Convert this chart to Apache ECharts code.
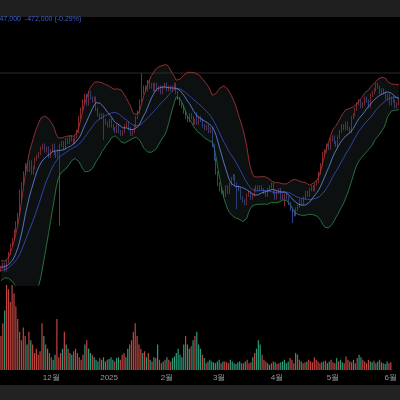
<!DOCTYPE html><html><head><meta charset="utf-8"><script src="https://cdn.jsdelivr.net/npm/echarts@6/dist/echarts.min.js"></script>
<style>html,body{margin:0;background:#000}#c{width:400px;height:400px}</style></head><body><div id="c"></div><script>
// prices in million KRW
const preCloses=[84,85,86,85,87,88,87,89,90,89,91,92,91,93,94,93,92,94,95,96,95,94,96,97,95,96,98,97,96,95];
const closes=[96,97,95,98,101,104,106,109,112,115,
121,126,130,133,131,134,130,132,135,136,
137,139,140,138,139,136,138,140,137,136,
138,140,141,139,142,141,143,142,141,143,
145,150,153,156,158,155,159,157,156,157,
153,151,150,151,149,148,147,149,147,146,
145,147,145,144,145,147,148,146,144,145,
147,150,152,156,159,161,160,163,161,162,
160,162,160,161,159,161,162,160,161,160,
161,162,159,157,155,154,152,150,149,151,
150,148,149,148,150,149,147,146,147,145,
146,140,135,130,126,124,123,122,125,123,
126,128,129,126,125,124,121,120,119,122,
123,121,122,124,125,124,125,124,123,122,
124,125,126,123,121,123,124,121,122,122,
121,119,117,116,115,117,118,120,119,121,
123,122,124,125,124,126,127,130,133,137,
138,140,139,142,143,141,140,143,145,147,
146,148,146,145,150,151,153,155,156,154,
155,157,156,154,158,159,160,162,161,159,
160,159,157,158,155,157,156,154,155,156];
const wickLows={31:111,54:142,124:117,149:118,153:112};
const wickHighs={74:166,10:124,103:152};
const volumes=[40,55,70,100,95,80,100,90,75,60,45,35,50,40,30,45,35,30,20,25,18,22,55,40,30,25,20,15,12,18,60,15,20,25,45,30,25,20,18,22,25,20,15,12,18,30,35,25,20,18,15,12,10,14,12,15,10,12,13,15,12,10,14,15,12,18,20,15,25,30,35,45,55,40,30,25,20,22,15,20,12,10,15,14,30,12,8,10,12,15,12,10,14,16,20,25,18,15,30,40,30,25,28,35,40,45,30,25,18,14,8,10,12,10,9,8,10,12,8,10,10,9,8,12,10,8,7,9,10,8,8,10,12,8,9,15,20,25,35,30,18,12,10,8,6,8,10,9,7,8,9,10,12,8,10,14,12,8,20,18,12,10,8,9,10,12,10,9,15,12,10,8,9,10,11,8,10,12,9,8,14,10,12,9,8,16,12,10,9,12,8,14,18,15,12,10,8,12,10,9,11,8,10,12,9,8,7,10,8,9];
const startDate=new Date(2024,10,4);
const dates=closes.map((_,i)=>{const d=new Date(startDate);d.setDate(d.getDate()+i);return d;});
const all=preCloses.concat(closes);const P=preCloses.length;
function ma(n,i){let s=0;for(let k=i-n+1;k<=i;k++)s+=all[k];return s/n;}
const mid=[],up=[],lo=[],ma10=[];
closes.forEach((c,i)=>{const j=i+P;const m=ma(20,j);let v=0;for(let k=j-19;k<=j;k++)v+=(all[k]-m)**2;const sd=Math.sqrt(v/20);mid.push(m);up.push(m+2*sd);lo.push(m-2*sd);ma10.push(ma(10,j));});
const ohlc=closes.map((c,i)=>{const o=i?closes[i-1]:preCloses[P-1];let l=Math.min(o,c)-0.6,h=Math.max(o,c)+0.6;if(wickLows[i])l=wickLows[i];if(wickHighs[i])h=wickHighs[i];return [o,c,l,h];});
const cats=dates.map(d=>d.getFullYear()+'-'+(d.getMonth()+1)+'-'+d.getDate());
const ch=echarts.init(document.getElementById('c'));
ch.setOption({backgroundColor:'#000',animation:false,
graphic:[{type:'rect',shape:{x:0,y:0,width:400,height:17},style:{fill:'#1f1f1f'}},
{type:'rect',shape:{x:0,y:385,width:400,height:15},style:{fill:'#222'}},
{type:'text',left:-18,top:16,style:{text:'162,047,000  -472,000 (-0.29%)',fill:'#3f5fd6',font:'7px sans-serif'}},
{type:'line',shape:{x1:0,y1:73,x2:400,y2:73},style:{stroke:'#2a2a2a',lineWidth:1}}],
grid:[{left:0,right:0,top:60,height:225},{left:0,right:0,top:285,height:85}],
xAxis:[{type:'category',data:cats,gridIndex:0,boundaryGap:true,axisLine:{show:false},axisTick:{show:false},axisLabel:{show:false},splitLine:{show:false}},
{type:'category',data:cats,gridIndex:1,boundaryGap:true,axisLine:{show:false},axisTick:{show:false},splitLine:{show:false},
axisLabel:{color:'#999',fontSize:8,margin:4,interval:(i)=>dates[i].getDate()===1,formatter:(v,i)=>{const d=dates[i];return d.getMonth()===0?String(d.getFullYear()):(d.getMonth()+1)+'월';}}}],
yAxis:[{type:'value',gridIndex:0,min:89.6,max:170.8,show:false,splitLine:{show:false}},{type:'value',gridIndex:1,min:0,max:100,show:false,splitLine:{show:false}}],
series:[
{type:'line',data:lo,symbol:'none',stack:'bb',lineStyle:{opacity:0},silent:true},
{type:'line',data:up.map((u,i)=>u-lo[i]),symbol:'none',stack:'bb',lineStyle:{opacity:0},areaStyle:{color:'rgba(40,50,55,0.45)'},silent:true},
{type:'line',data:up,symbol:'none',lineStyle:{color:'#b23a3a',width:0.8}},
{type:'line',data:lo,symbol:'none',lineStyle:{color:'#2f8a4a',width:0.8}},
{type:'line',data:mid,symbol:'none',lineStyle:{color:'#3a52c8',width:0.8}},
{type:'line',data:ma10,symbol:'none',lineStyle:{color:'#6f8ee8',width:0.8}},
{type:'candlestick',data:ohlc,barWidth:1.3,itemStyle:{color:'#e8414b',color0:'#4f73f0',borderColor:'#e8414b',borderColor0:'#4f73f0',borderWidth:0.6}},
{type:'bar',xAxisIndex:1,yAxisIndex:1,barWidth:1.2,data:volumes.map((v,i)=>({value:v,itemStyle:{color:ohlc[i][1]>=ohlc[i][0]?'#c0443f':'#2a9a7a'}}))}
]});
</script></body></html>
